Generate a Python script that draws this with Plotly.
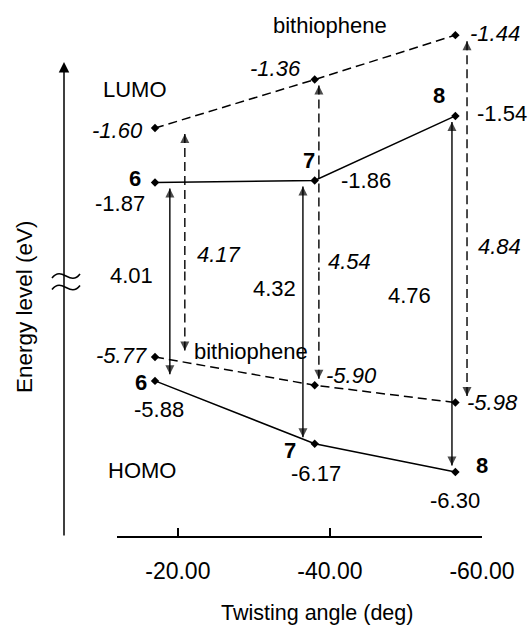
import plotly.graph_objects as go

# ---------------- data ----------------
twist_angle = [-17.0, -38.0, -56.5]          # twisting angle (deg) of compounds 6, 7, 8
compound_ids = ["6", "7", "8"]
lumo_compound = [-1.87, -1.86, -1.54]        # eV
homo_compound = [-5.88, -6.17, -6.30]        # eV
lumo_bithiophene = [-1.60, -1.36, -1.14]     # eV (last level as drawn; gap 4.84 eV)
homo_bithiophene = [-5.77, -5.90, -5.98]     # eV

lumo_compound_labels = ["-1.87", "-1.86", "-1.54"]
homo_compound_labels = ["-5.88", "-6.17", "-6.30"]
lumo_bithiophene_labels = ["-1.60", "-1.36", "-1.44"]
homo_bithiophene_labels = ["-5.77", "-5.90", "-5.98"]
gap_compound_labels = ["4.01", "4.32", "4.76"]
gap_bithiophene_labels = ["4.17", "4.54", "4.84"]

x_tickvals = [-20, -40, -60]
x_ticktext = ["-20.00", "-40.00", "-60.00"]

# ---------------- style / layout ----------------
W, H = 529, 626
FONT = "Liberation Sans, Arial, Helvetica, sans-serif"
FS = 22
X_DOMAIN = [117 / W, 482 / W]
X_RANGE = [-12, -60]
BREAK = 1 - 270 / H
BOTTOM = 1 - 535.7 / H
Y_TOP_RANGE = [-2.303, -0.966]
Y_BOT_RANGE = [-6.5935, -5.369]
SOLID_DX = [-1.95, 1.55, 0.45]
DASH_DX = [-3.92, -0.55, -1.53]
ARROW_GAP = 0.03
DASH = "9px,5px"
LW = 1.5


def px_x(p):
    return p / W


def px_y(p):
    return 1 - p / H


fig = go.Figure()

# level lines
for ys, yax, dash in [(lumo_compound, "y2", "solid"), (lumo_bithiophene, "y2", DASH),
                      (homo_compound, "y", "solid"), (homo_bithiophene, "y", DASH)]:
    fig.add_trace(go.Scatter(
        x=twist_angle, y=ys, xaxis="x", yaxis=yax, mode="lines+markers",
        line=dict(color="black", width=LW, dash=dash),
        marker=dict(symbol="diamond", size=6.5, color="black"),
        cliponaxis=False, hoverinfo="skip"))

# vertical double arrows (HOMO <-> LUMO), split across the axis break
for i in range(3):
    for dx, lumo, homo, dash in [(SOLID_DX[i], lumo_compound[i], homo_compound[i], "solid"),
                                 (DASH_DX[i], lumo_bithiophene[i], homo_bithiophene[i], DASH)]:
        xa = twist_angle[i] + dx
        fig.add_trace(go.Scatter(
            x=[xa, xa], y=[lumo - ARROW_GAP, Y_TOP_RANGE[0]], xaxis="x", yaxis="y2",
            mode="lines+markers", line=dict(color="black", width=1.4, dash=dash),
            marker=dict(symbol=["arrow-up", "circle"], size=[9, 0], color="black",
                        line=dict(width=0)),
            hoverinfo="skip"))
        fig.add_trace(go.Scatter(
            x=[xa, xa], y=[homo + ARROW_GAP, Y_BOT_RANGE[1]], xaxis="x", yaxis="y",
            mode="lines+markers", line=dict(color="black", width=1.4, dash=dash),
            marker=dict(symbol=["arrow-down", "circle"], size=[9, 0], color="black",
                        line=dict(width=0)),
            hoverinfo="skip"))

ann = []


def label(x, y, yref, text, dx, dy, size=FS, italic=False, bold=False):
    t = text
    if bold:
        t = "<b>" + t + "</b>"
    if italic:
        t = "<i>" + t + "</i>"
    ann.append(dict(x=x, y=y, xref="x", yref=yref, text=t, showarrow=False,
                    xanchor="center", yanchor="middle", xshift=dx, yshift=dy,
                    font=dict(family=FONT, size=size, color="black")))


lumo_bt_off = [(-38, -2), (-39, 11.5), (40, 2)]
lumo_id_off = [(-20.5, 4), (-6, 20.5), (-16, 20)]
lumo_val_off = [(-35, -20.5), (51, 0), (47, 2)]
homo_bt_off = [(-34, 2), (37, 10), (37, 0)]
homo_id_off = [(-14, -2), (-25, -7), (27, 7)]
homo_val_off = [(4, -29), (1, -30), (0, -28)]

for i in range(3):
    x = twist_angle[i]
    label(x, lumo_bithiophene[i], "y2", lumo_bithiophene_labels[i], *lumo_bt_off[i], italic=True)
    label(x, lumo_compound[i], "y2", compound_ids[i], *lumo_id_off[i], bold=True)
    label(x, lumo_compound[i], "y2", lumo_compound_labels[i], *lumo_val_off[i])
    label(x, homo_bithiophene[i], "y", homo_bithiophene_labels[i], *homo_bt_off[i], italic=True)
    label(x, homo_compound[i], "y", compound_ids[i], *homo_id_off[i], bold=True)
    label(x, homo_compound[i], "y", homo_compound_labels[i], *homo_val_off[i])

# gap labels
gap_c_pos = [(-38, 275), (-28, 289), (-42, 295)]
gap_b_pos = [(34, 254), (31, 261), (32, 246)]
for i in range(3):
    ann.append(dict(x=twist_angle[i] + SOLID_DX[i], xref="x", y=px_y(gap_c_pos[i][1]), yref="paper",
                    xshift=gap_c_pos[i][0], text=gap_compound_labels[i], showarrow=False,
                    xanchor="center", yanchor="middle",
                    font=dict(family=FONT, size=FS, color="black")))
    ann.append(dict(x=twist_angle[i] + DASH_DX[i], xref="x", y=px_y(gap_b_pos[i][1]), yref="paper",
                    xshift=gap_b_pos[i][0], text="<i>" + gap_bithiophene_labels[i] + "</i>",
                    showarrow=False, xanchor="center", yanchor="middle",
                    font=dict(family=FONT, size=FS, color="black")))

# free text
for txt, cx, cy in [("LUMO", 134.5, 90), ("HOMO", 142, 470),
                    ("bithiophene", 330, 25), ("bithiophene", 251, 351)]:
    ann.append(dict(x=px_x(cx), y=px_y(cy), xref="paper", yref="paper", text=txt,
                    showarrow=False, xanchor="center", yanchor="middle",
                    font=dict(family=FONT, size=FS, color="black")))

# axis titles
ann.append(dict(x=px_x(316.5), y=px_y(612.5), xref="paper", yref="paper",
                text="Twisting angle (deg)", showarrow=False, xanchor="center", yanchor="middle",
                font=dict(family=FONT, size=21.5, color="black")))
ann.append(dict(x=px_x(24), y=px_y(307), xref="paper", yref="paper",
                text="Energy level (eV)", textangle=-90, showarrow=False,
                xanchor="center", yanchor="middle",
                font=dict(family=FONT, size=22.5, color="black")))

# energy axis arrow
ann.append(dict(x=px_x(64), y=px_y(62), xref="paper", yref="paper",
                ax=0, ay=537 - 62, axref="pixel", ayref="pixel",
                text="", showarrow=True, arrowhead=2, arrowsize=1.4, arrowwidth=1.5,
                arrowcolor="black"))

# axis-break mark (two small waves across the energy axis)
shapes = []
for ymid in (276.0, 287.5):
    x0, x1 = 52.0, 80.0
    path = "M{},{} C{},{} {},{} {},{}".format(
        px_x(x0), px_y(ymid + 2), px_x(x0 + 10), px_y(ymid - 11),
        px_x(x1 - 10), px_y(ymid + 11), px_x(x1), px_y(ymid - 2))
    shapes.append(dict(type="path", path=path, xref="paper", yref="paper",
                       line=dict(color="black", width=1.6)))

fig.update_layout(
    width=W, height=H, margin=dict(l=0, r=0, t=0, b=0),
    paper_bgcolor="white", plot_bgcolor="rgba(0,0,0,0)", showlegend=False,
    annotations=ann, shapes=shapes,
    xaxis=dict(domain=X_DOMAIN, range=X_RANGE, anchor="y", showline=True,
               linecolor="black", linewidth=LW, ticks="inside", ticklen=8,
               tickwidth=LW, tickcolor="black", tickvals=x_tickvals, ticktext=x_ticktext,
               tickfont=dict(family=FONT, size=23, color="black"),
               showgrid=False, zeroline=False, automargin=False, ticklabelstandoff=14),
    yaxis=dict(domain=[BOTTOM, BREAK], range=Y_BOT_RANGE, visible=False, anchor="x"),
    yaxis2=dict(domain=[BREAK, 1], range=Y_TOP_RANGE, visible=False, anchor="x"),
)

fig.write_html("out.html", config={"displayModeBar": False},
               post_script="document.body.style.margin='0px';")
